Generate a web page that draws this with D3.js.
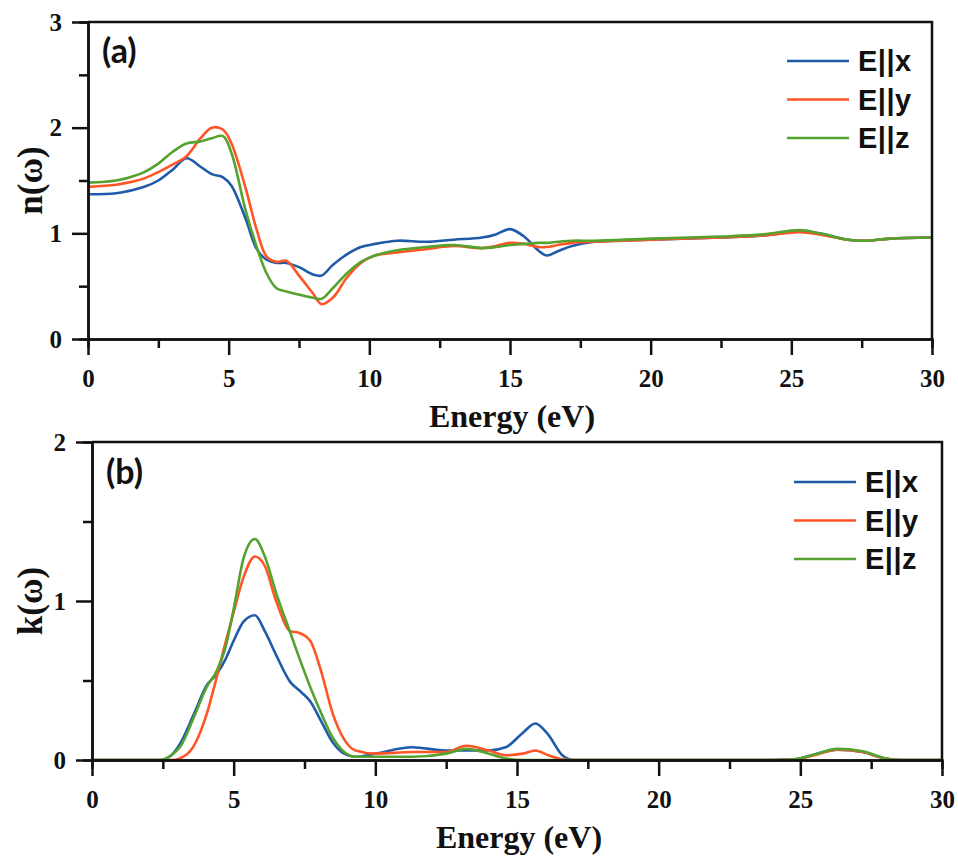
<!DOCTYPE html>
<html>
<head>
<meta charset="utf-8">
<script src="https://cdn.jsdelivr.net/npm/d3@7"></script>
<style>
  html, body { margin: 0; padding: 0; background: #fff; }
  svg { display: block; }
</style>
</head>
<body>
<svg id="chart" width="958" height="856"></svg>
<script>
// Refractive index n(ω) — photon energy grid (eV) and the three polarisations
const energyN = [0, 1, 1.6, 2, 2.5, 3, 3.5, 4, 4.4, 4.8, 5.1, 5.6, 6, 6.35, 6.7, 7.05, 7.5, 8, 8.3, 8.7, 9.2, 9.7, 10.2, 11, 12, 13, 14, 14.5, 15, 15.5, 16, 16.3, 16.7, 17.2, 18, 20, 22.5, 24, 25.3, 26, 27, 27.6, 28.5, 30];
const nX = [1.37, 1.38, 1.41, 1.44, 1.50, 1.60, 1.71, 1.63, 1.56, 1.53, 1.45, 1.14, 0.85, 0.75, 0.72, 0.72, 0.68, 0.61, 0.60, 0.70, 0.80, 0.87, 0.90, 0.93, 0.92, 0.94, 0.96, 0.99, 1.04, 0.97, 0.84, 0.79, 0.83, 0.88, 0.92, 0.94, 0.96, 0.98, 1.02, 1.00, 0.94, 0.93, 0.95, 0.96];
const nY = [1.44, 1.46, 1.49, 1.52, 1.58, 1.65, 1.73, 1.90, 2.00, 1.98, 1.85, 1.43, 1.03, 0.78, 0.73, 0.74, 0.60, 0.43, 0.33, 0.39, 0.58, 0.72, 0.79, 0.82, 0.85, 0.88, 0.86, 0.88, 0.91, 0.90, 0.87, 0.87, 0.89, 0.91, 0.92, 0.94, 0.96, 0.98, 1.01, 0.99, 0.94, 0.93, 0.95, 0.96];
const nZ = [1.48, 1.50, 1.54, 1.58, 1.66, 1.77, 1.85, 1.87, 1.90, 1.92, 1.76, 1.22, 0.87, 0.62, 0.48, 0.45, 0.42, 0.39, 0.38, 0.48, 0.62, 0.73, 0.79, 0.84, 0.87, 0.89, 0.86, 0.87, 0.89, 0.90, 0.91, 0.91, 0.92, 0.93, 0.93, 0.95, 0.97, 0.99, 1.03, 1.00, 0.94, 0.93, 0.95, 0.96];

// Extinction coefficient k(ω)
const energyK = [0, 2, 2.4, 2.8, 3.1, 3.6, 4.05, 4.4, 4.7, 5, 5.35, 5.75, 6.1, 6.5, 7, 7.3, 7.7, 8.1, 8.5, 8.9, 9.3, 10, 11.3, 12.5, 13.2, 14, 14.6, 15.2, 15.65, 16.1, 16.6, 17, 20, 24, 24.8, 25.5, 26.3, 27.2, 28, 28.6, 30];
const kX = [0, 0, 0, 0.03, 0.10, 0.29, 0.47, 0.54, 0.63, 0.75, 0.87, 0.91, 0.81, 0.66, 0.49, 0.44, 0.37, 0.24, 0.11, 0.04, 0.02, 0.04, 0.08, 0.06, 0.06, 0.06, 0.08, 0.17, 0.23, 0.16, 0.03, 0, 0, 0, 0.005, 0.035, 0.065, 0.05, 0.01, 0, 0];
const kY = [0, 0, 0, 0, 0.01, 0.09, 0.29, 0.52, 0.73, 0.93, 1.15, 1.28, 1.22, 1.00, 0.81, 0.80, 0.75, 0.55, 0.29, 0.13, 0.06, 0.04, 0.05, 0.05, 0.09, 0.06, 0.03, 0.04, 0.06, 0.03, 0.005, 0, 0, 0, 0.005, 0.03, 0.065, 0.05, 0.01, 0, 0];
const kZ = [0, 0, 0, 0.03, 0.08, 0.27, 0.46, 0.56, 0.70, 0.95, 1.27, 1.39, 1.28, 1.05, 0.80, 0.65, 0.46, 0.29, 0.14, 0.05, 0.02, 0.02, 0.02, 0.04, 0.07, 0.04, 0.01, 0, 0, 0, 0, 0, 0, 0, 0.005, 0.035, 0.07, 0.055, 0.01, 0, 0];

const seriesNames = ["E||x", "E||y", "E||z"];
const seriesColors = ["#1f5ba8", "#ff5526", "#55a22f"];

const energyTicks = [0, 5, 10, 15, 20, 25, 30];
const energyMinorTicks = [2.5, 7.5, 12.5, 17.5, 22.5, 27.5];
const nTicks = [0, 1, 2, 3];
const nMinorTicks = [0.5, 1.5, 2.5];
const kTicks = [0, 1, 2];
const kMinorTicks = [0.5, 1.5];

const svg = d3.select("#chart");
const SERIF = "'Liberation Serif', 'Times New Roman', serif";
const SANS = "'Liberation Sans', Arial, sans-serif";

function drawPanel(p) {
  const x = d3.scaleLinear().domain([0, 30]).range([p.left, p.right]);
  const y = d3.scaleLinear().domain(p.yDomain).range([p.bottom, p.top]);
  const g = svg.append("g");

  // curves
  const line = d3.line()
    .x(d => x(d[0]))
    .y(d => y(d[1]))
    .curve(p.curve);
  p.series.forEach((vals, i) => {
    g.append("path")
      .datum(p.energy.map((e, j) => [e, vals[j]]))
      .attr("fill", "none")
      .attr("stroke", seriesColors[i])
      .attr("stroke-width", 2.6)
      .attr("stroke-linejoin", "round")
      .attr("d", line);
  });

  // frame (top and right)
  g.append("path")
    .attr("d", `M${p.left},${p.top}H${p.right}V${p.bottom}`)
    .attr("fill", "none").attr("stroke", "#111").attr("stroke-width", 2.5);

  const styleAxis = (sel) => {
    sel.select(".domain").attr("stroke", "#111").attr("stroke-width", 2.5);
    sel.selectAll(".tick line").attr("stroke", "#111").attr("stroke-width", 2.5);
    sel.selectAll(".tick text")
      .attr("fill", "#111")
      .style("font-family", SERIF)
      .style("font-weight", "bold")
      .style("font-size", "25px");
  };

  // minor ticks
  g.append("g").attr("transform", `translate(0,${p.bottom})`)
    .call(d3.axisBottom(x).tickValues(energyMinorTicks).tickSize(9).tickFormat(""))
    .call(styleAxis);
  g.append("g").attr("transform", `translate(${p.left},0)`)
    .call(d3.axisLeft(y).tickValues(p.yMinor).tickSize(9).tickFormat(""))
    .call(styleAxis);

  // major ticks
  g.append("g").attr("transform", `translate(0,${p.bottom})`)
    .call(d3.axisBottom(x).tickValues(energyTicks).tickSize(16).tickSizeOuter(0).tickPadding(14).tickFormat(d3.format("d")))
    .call(styleAxis);
  g.append("g").attr("transform", `translate(${p.left},0)`)
    .call(d3.axisLeft(y).tickValues(p.yTicks).tickSize(16).tickSizeOuter(0).tickPadding(10).tickFormat(d3.format("d")))
    .call(styleAxis);

  // axis titles
  g.append("text")
    .attr("x", (p.left + p.right) / 2 + 2)
    .attr("y", p.bottom + 88)
    .attr("text-anchor", "middle")
    .style("font-family", SERIF).style("font-weight", "bold").style("font-size", "32px")
    .attr("fill", "#111")
    .text("Energy (eV)");
  g.append("text")
    .attr("transform", `translate(${p.titleX},${(p.top + p.bottom) / 2 + p.titleDy}) rotate(-90)`)
    .attr("text-anchor", "middle")
    .style("font-family", SERIF).style("font-weight", "bold").style("font-size", "35px")
    .attr("fill", "#111")
    .text(p.yTitle);

  // panel tag
  g.append("text")
    .attr("x", p.left + 14)
    .attr("y", p.top + p.tagDy)
    .style("font-family", "Lato, 'Open Sans', sans-serif").style("font-weight", "bold").style("font-size", "34px")
    .attr("fill", "#111")
    .text(p.tag);

  // legend
  seriesNames.forEach((name, i) => {
    const ly = p.legendY + i * 38.5;
    g.append("line")
      .attr("x1", p.legendX).attr("x2", p.legendX + 62)
      .attr("y1", ly).attr("y2", ly)
      .attr("stroke", seriesColors[i]).attr("stroke-width", 2.6);
    g.append("text")
      .attr("x", p.legendX + 71)
      .attr("y", ly + 10)
      .style("font-family", SANS).style("font-weight", "bold").style("font-size", "29px")
      .style("letter-spacing", "0.5px")
      .attr("fill", "#111")
      .text(name);
  });
}

drawPanel({
  left: 88, right: 932, top: 22, bottom: 339,
  yDomain: [0, 3], yTicks: nTicks, yMinor: nMinorTicks,
  energy: energyN, series: [nX, nY, nZ],
  curve: d3.curveCatmullRom.alpha(0.5),
  yTitle: "n(ω)", titleX: 42, titleDy: 0,
  tag: "(a)", tagDy: 41,
  legendX: 787, legendY: 61
});

drawPanel({
  left: 92, right: 942, top: 442, bottom: 760,
  yDomain: [0, 2], yTicks: kTicks, yMinor: kMinorTicks,
  energy: energyK, series: [kX, kY, kZ],
  curve: d3.curveMonotoneX,
  yTitle: "k(ω)", titleX: 42, titleDy: 0,
  tag: "(b)", tagDy: 42,
  legendX: 794, legendY: 482
});
</script>
</body>
</html>
